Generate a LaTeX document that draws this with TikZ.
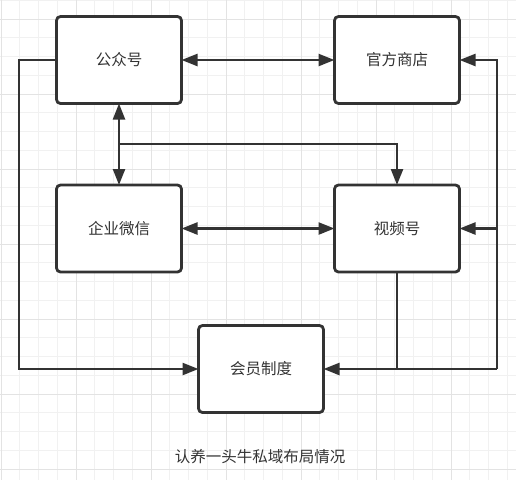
\documentclass[tikz,border=0pt]{standalone}
\usepackage{fontspec}
\setmainfont{Noto Sans CJK SC}
\usetikzlibrary{arrows.meta}
\definecolor{ink}{HTML}{333333}
\definecolor{gminor}{HTML}{F1F1F1}
\definecolor{gmajor}{HTML}{E3E3E3}
\tikzset{
  box/.style={draw=ink, line width=2.8pt, rounded corners=4pt, fill=white,
    minimum width=125pt, minimum height=87pt, inner sep=0pt, outer sep=0pt,
    text=ink, font=\fontsize{15.5pt}{17pt}\selectfont},
  conn/.style={draw=ink, line width=2.4pt},
  arr/.style={conn, -{Triangle[length=16pt,width=12pt]}},
  darr/.style={conn, {Triangle[length=16pt,width=12pt]}-{Triangle[length=16pt,width=12pt]}},
}
\begin{document}
\begin{tikzpicture}[x=1pt,y=-1pt]
\useasboundingbox (0,0) rectangle (516,480);
\fill[white] (0,0) rectangle (516,480);
% grid
\foreach \i in {0,...,27} {
  \pgfmathsetmacro{\xx}{1+18.75*\i}
  \draw[gminor, line width=0.8pt] (\xx,0) -- (\xx,480);
}
\foreach \i in {0,...,25} {
  \pgfmathsetmacro{\yy}{0.25+18.75*\i}
  \draw[gminor, line width=0.8pt] (0,\yy) -- (516,\yy);
}
\foreach \i in {0,...,6} {
  \pgfmathsetmacro{\xx}{1+75*\i}
  \draw[gmajor, line width=0.8pt] (\xx,0) -- (\xx,480);
}
\foreach \i in {0,...,6} {
  \pgfmathsetmacro{\yy}{19+75*\i}
  \draw[gmajor, line width=0.8pt] (0,\yy) -- (516,\yy);
}
% nodes
\node[box] (gzh) at (119,60) {公众号};
\node[box] (gf) at (397,60) {官方商店};
\node[box] (qy) at (119,228.5) {企业微信};
\node[box] (sp) at (397,228.5) {视频号};
\node[box] (hy) at (261,369) {会员制度};
\node[text=ink, font=\fontsize{15.5pt}{17pt}\selectfont] (cap) at (260,457) {认养一头牛私域布局情况};
% coordinates
\coordinate (L) at (19,369);
\coordinate (R) at (497,369);
\coordinate (Rs) at (497,228.5);
\coordinate (B) at (119,144);
% connectors
\draw[darr] (gzh) -- (gf);
\draw[darr] (gzh) -- (qy);
\draw[darr] (qy) -- (sp);
\draw[arr] (B) -| (sp.north);
\draw[arr] (gzh.west) -| (L) -- (hy.west);
\draw[arr] (R) |- (gf.east);
\draw[arr] (Rs) -- (sp.east);
\draw[arr] (R) -- (hy.east);
\draw[conn] (sp.south) -- (sp.south|-R);
\end{tikzpicture}
\end{document}
